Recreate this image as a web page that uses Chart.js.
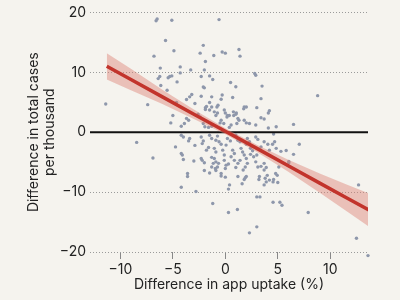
<!DOCTYPE html>
<html>
<head>
<meta charset="utf-8">
<script src="https://cdn.jsdelivr.net/npm/chart.js@4"></script>
<style>
  html, body { margin: 0; padding: 0; background: #f5f3ee; }
  #wrap { width: 400px; height: 300px; }
</style>
</head>
<body>
<div id="wrap"><canvas id="scatterChart" width="400" height="300"></canvas></div>
<script>
// 散點數據：app 使用率差異 (x) 與 每千人病例差異 (y)
const uptakeDiff = [
  -4.8, -6.6, -6.5, -5.1, -0.6, -5.7, -2.1, -4.9, -2.4, -1.1, -0.3, 0.0, 1.3, 1.4, -1.9, -6.8,
  -6.2, -4.3, -3.3, -2.0, 2.8, 2.9, -1.2, 0.5, 1.0, 3.5, -2.0, 3.4, 8.8, -1.3, -0.3, -0.4,
  0.7, -1.8, -1.9, -1.5, -0.7, -0.8, 0.0, 0.2, 1.8, 1.75, 3.0, 4.2, 4.1, 3.4, 3.7, 1.8,
  2.0, 1.05, 0.8, 6.5, 4.1, 4.6, 7.05,
  -6.25, -6.4, -5.3, -5.1, -5.45, -4.3, -2.3, -1.5, -4.6, -6.15, -2.1, -5.55, -3.2, -3.4, -3.7, -2.3,
  -4.65, -7.4, -2.9, -1.5, -1.3, -1.9, -2.6, -2.4, -5.0, -3.5, -3.9, -3.7, -5.2, -4.2, -2.1, -1.95,
  -1.6, -1.3, -4.2, -4.0, -3.4, -3.5, -2.3, -2.1, -2.2, -1.5, -1.3, -4.75, -2.9, -1.6, -1.8, -4.2,
  -4.0, -3.0, -2.3, -2.2, -1.3, -1.15, -1.3, -6.9,
  2.0, -1.05, -0.75, -0.9, -0.1, 0.16, 0.38, 0.77, 1.0, 1.2, 1.3, 1.1, 2.3, 2.9, -0.5, -0.4,
  -0.15, 0.55, 0.38, 4.85, -0.75, -0.9, -0.6, -0.4, 0.2, 0.48, 0.07, 1.0, 1.2, 1.4, 2.1, 2.3,
  2.0, 2.9, 3.1, 3.7, 4.05, 4.7, 4.5, -1.05, -0.9, -0.25, -0.1, 0.7, 0.86, 0.55, 1.5, 1.65,
  1.8, 2.4, 2.6, 3.4, 4.2, 4.85, -1.05, -0.9, -0.75, -0.1, 0.07, 0.86, 1.2, 1.0, 2.0, 2.1,
  1.9, 2.9, 3.1, 3.7, 3.9,
  5.8, 5.3, 6.5, 6.05,
  -2.0, -1.5, -0.95, -0.65, -0.4, 0.0, 0.3, 1.4, 1.7, 2.0, 2.4, 2.7, 3.0, 3.4, 3.7, 3.8,
  4.0, 4.2, 4.55, 4.95, 5.0, 0.4, 0.3, 6.05, 5.1,
  -4.1, -3.6, -3.6, -4.2, -2.8, -2.0, -0.9, -0.4, 0.0, -1.2, 0.3, 1.2, 1.9, 1.8, 1.6, 3.25,
  3.2, 3.9, 3.7, 4.6, 4.8, 3.0, 3.3, 4.55, 5.2, 5.4, 1.15, 7.9, 2.3, 3.0, 12.7, 12.5,
  13.6, -11.4, -8.45
];
const caseDiff = [
  21.4, 18.6, 18.9, 18.7, 18.8, 15.3, 14.5, 13.6, 13.2, 12.8, 13.4, 13.2, 13.8, 12.7, 11.8, 12.7,
  10.7, 10.9, 10.4, 10.4, 9.8, 9.5, 8.8, 8.3, 7.6, 7.7, 7.4, 5.6, 6.1, 5.9, 6.2, 5.5,
  5.8, 4.3, 4.1, 3.7, 4.5, 4.2, 3.2, 2.8, 4.2, 3.9, 4.1, 3.6, 3.2, 2.4, 2.2, 2.0,
  1.55, 3.2, 2.8, 1.3, 0.7, -0.3, -2.0,
  9.3, 8.95, 9.3, 9.4, 9.1, 9.9, 9.3, 9.4, 8.4, 7.8, 7.55, 7.0, 6.3, 5.9, 5.45, 6.0,
  4.95, 4.6, 4.8, 4.95, 4.2, 3.8, 3.0, 2.55, 2.8, 2.0, 1.45, 2.3, 1.55, 1.0, 1.45, 0.9,
  0.8, 1.0, -0.5, -0.8, -1.05, -1.45, -0.8, -1.45, -1.9, -0.5, -1.05, -2.45, -2.2, -2.55, -3.0, -3.55,
  -4.55, -4.8, -4.4, -4.7, -4.2, -5.2, -5.8, -4.3,
  4.2, 3.4, 3.2, 2.8, 3.7, 2.55, 2.8, 3.4, 3.0, 2.3, 2.0, 1.45, 1.45, 1.2, 1.55, 2.0,
  1.45, 1.2, 0.8, 0.9, -0.65, -1.35, -1.6, -2.0, -1.05, -1.45, -2.15, -0.5, -1.35, -1.6, -1.05, -1.6,
  -2.0, -0.8, -1.2, -1.6, -2.0, -1.6, -2.0, -2.7, -3.3, -3.0, -3.8, -3.0, -3.55, -4.1, -2.7, -3.3,
  -3.8, -2.7, -3.1, -2.45, -3.0, -2.7, -4.4, -4.95, -5.8, -4.7, -5.5, -4.7, -5.2, -5.9, -4.4, -5.2,
  -5.8, -4.95, -5.8, -5.2, -5.9,
  -3.05, -3.2, -3.7, -4.9,
  -5.1, -6.8, -6.05, -5.2, -6.9, -6.05, -5.3, -4.7, -6.3, -7.4, -3.7, -4.1, -3.8, -5.7, -6.3, -7.7,
  -7.2, -8.0, -8.3, -7.2, -8.4, -8.8, -9.5, -5.1, -5.8,
  -3.8, -6.9, -7.4, -9.2, -9.9, -6.4, -6.4, -7.3, -7.5, -11.9, -13.4, -7.4, -7.6, -7.9, -8.6, -7.4,
  -7.9, -8.3, -8.8, -7.9, -6.9, -10.8, -10.8, -11.7, -11.7, -12.2, -12.9, -13.4, -16.8, -15.8, -8.8, -17.7,
  -20.6, 4.7, -1.7
];

// 迴歸線與信賴區間
const fitX = [-11.3, -9, -6, -3, 0, 3, 6, 9, 11.5, 13.7];
const fitY = [11.0, 8.8, 5.9, 3.0, 0.15, -2.7, -5.6, -8.5, -10.9, -13.0];
const bandUpper = [13.2, 10.6, 7.1, 3.8, 0.65, -2.1, -4.6, -6.9, -8.7, -10.2];
const bandLower = [8.8, 7.0, 4.7, 2.2, -0.35, -3.3, -6.6, -10.1, -13.1, -15.8];

// 座標軸範圍與刻度
const xRange = [-12.9, 13.6];
const xTicks = [-10, -5, 0, 5, 10];
const yTicks = [-20, -10, 0, 10, 20];

const toPoints = (xs, ys) => xs.map((x, i) => ({ x: x, y: ys[i] }));
const minusSign = (v) => String(v).replace('-', '\u2212');

document.addEventListener('DOMContentLoaded', function() {
    initializeScatterChart();
});

function initializeScatterChart() {
    const ctx = document.getElementById('scatterChart').getContext('2d');
    Chart.defaults.font.family = 'Inter, "Noto Sans", sans-serif';
    Chart.defaults.color = '#222';

    const chartConfig = {
        type: 'scatter',
        data: {
            datasets: [
                {
                    // 迴歸線
                    type: 'line',
                    data: toPoints(fitX, fitY),
                    borderColor: '#c2342c',
                    borderWidth: 3.5,
                    pointRadius: 0,
                    fill: false,
                    order: 0
                },
                {
                    type: 'line',
                    data: toPoints(fitX, bandUpper),
                    borderWidth: 0,
                    pointRadius: 0,
                    backgroundColor: 'rgba(222, 130, 118, 0.45)',
                    fill: '+1',
                    order: 1
                },
                {
                    type: 'line',
                    data: toPoints(fitX, bandLower),
                    borderWidth: 0,
                    pointRadius: 0,
                    fill: false,
                    order: 1
                },
                {
                    // 零基準線
                    type: 'line',
                    data: [{ x: xRange[0], y: 0 }, { x: xRange[1], y: 0 }],
                    borderColor: '#111',
                    borderWidth: 2,
                    pointRadius: 0,
                    fill: false,
                    order: 2
                },
                {
                    data: toPoints(uptakeDiff, caseDiff),
                    backgroundColor: '#8e97ab',
                    borderWidth: 0,
                    pointRadius: 1.7,
                    clip: false,
                    order: 3
                }
            ]
        },
        options: {
            responsive: false,
            animation: false,
            layout: {
                padding: { top: 12, right: 32, bottom: 7, left: 25 }
            },
            plugins: {
                legend: { display: false },
                tooltip: { enabled: false }
            },
            scales: {
                x: {
                    type: 'linear',
                    min: xRange[0],
                    max: xRange[1],
                    afterBuildTicks: (scale) => { scale.ticks = xTicks.map(v => ({ value: v })); },
                    afterFit: (scale) => { scale.height = 41; },
                    border: { display: false },
                    grid: {
                        drawOnChartArea: false,
                        drawTicks: true,
                        tickLength: 7,
                        tickColor: '#888',
                        tickWidth: 1
                    },
                    ticks: {
                        padding: 2,
                        font: { size: 14 },
                        callback: minusSign
                    },
                    title: {
                        display: true,
                        text: 'Difference in app uptake (%)',
                        font: { size: 14 },
                        padding: { top: 0, bottom: 0 }
                    }
                },
                y: {
                    min: -20,
                    max: 20,
                    afterBuildTicks: (scale) => { scale.ticks = yTicks.map(v => ({ value: v })); },
                    afterFit: (scale) => { scale.width = 65; },
                    border: { display: false, dash: [1, 2] },
                    grid: {
                        color: '#9a9a9a',
                        lineWidth: 1,
                        drawTicks: false
                    },
                    ticks: {
                        padding: 4,
                        font: { size: 14 },
                        callback: minusSign
                    },
                    title: {
                        display: true,
                        text: ['Difference in total cases', 'per thousand'],
                        font: { size: 14, lineHeight: 1.2 },
                        padding: { top: 0, bottom: 0 }
                    }
                }
            }
        }
    };

    const chart = new Chart(ctx, chartConfig);
}
</script>
</body>
</html>
